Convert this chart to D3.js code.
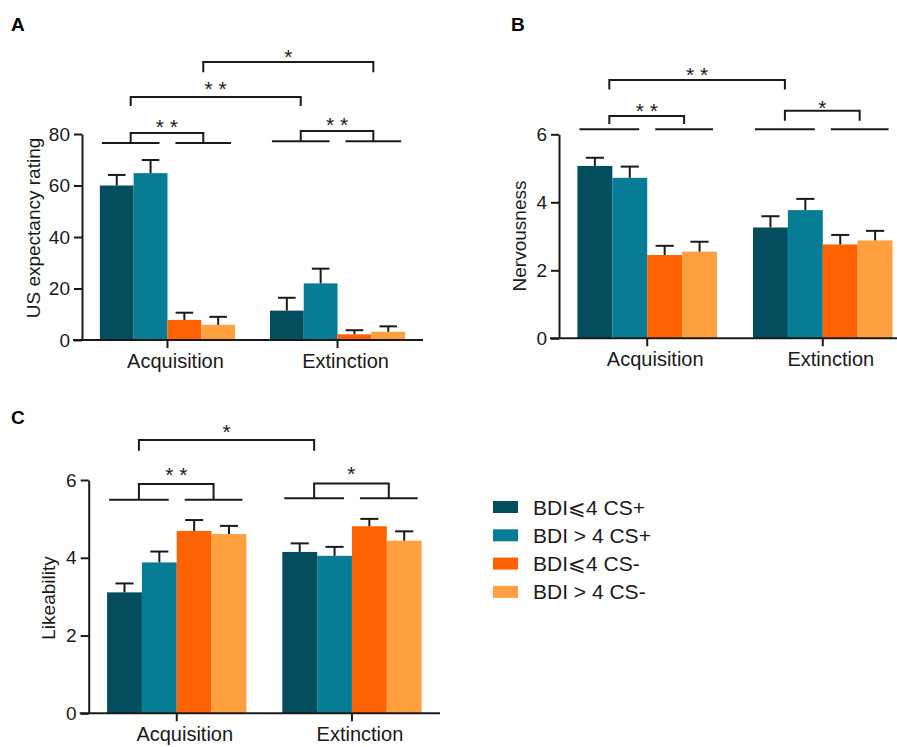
<!DOCTYPE html>
<html>
<head>
<meta charset="utf-8">
<script src="https://cdn.jsdelivr.net/npm/d3@7"></script>
<style>
  body { margin: 0; background: #fff; }
  svg { display: block; font-family: "Liberation Sans", Arial, sans-serif; }
  .stars { white-space: pre; }
</style>
</head>
<body>
<svg id="chart" width="897" height="747"></svg>
<script>
(function () {
  'use strict';

  // Data
  const categories = ['Acquisition', 'Extinction'];
  const seriesNames = ['BDI\u2A7D4 CS+', 'BDI > 4 CS+', 'BDI\u2A7D4 CS-', 'BDI > 4 CS-'];
  const seriesColors = ['#034d5f', '#067c95', '#ff6200', '#ffa040'];

  const expectancyMean = [[60.0, 64.8, 7.8, 5.9], [11.4, 22.0, 2.2, 3.2]];
  const expectancySem = [[4.1, 5.1, 2.8, 3.1], [5.0, 5.7, 1.6, 2.1]];
  const expectancyTicks = [0, 20, 40, 60, 80];

  const nervousMean = [[5.07, 4.72, 2.45, 2.55], [3.26, 3.77, 2.76, 2.88]];
  const nervousSem = [[0.24, 0.33, 0.27, 0.29], [0.33, 0.33, 0.28, 0.28]];
  const nervousTicks = [0, 2, 4, 6];

  const likeMean = [[3.11, 3.88, 4.69, 4.61], [4.15, 4.05, 4.81, 4.44]];
  const likeSem = [[0.23, 0.28, 0.28, 0.21], [0.22, 0.23, 0.19, 0.24]];
  const likeTicks = [0, 2, 4, 6];

  // significance lines: [category, value]; brackets: [from, to, top, foot, stars, gap]
  const expectancyPairs = [['Acquisition', 76.5], ['Extinction', 77.2]];
  const expectancyBrackets = [
    [['Acquisition', 0], ['Acquisition', 1], 80.4, 76.5, '* *', 11],
    [['Extinction', 0], ['Extinction', 1], 81.2, 77.2, '* *', 11],
    [['Acquisition', 0], ['Extinction', 0], 94.4, 90.9, '* *', 13],
    [['Acquisition', 1], ['Extinction', 1], 108, 104, '*', 10]
  ];
  const nervousPairs = [['Acquisition', 6.15], ['Extinction', 6.15]];
  const nervousBrackets = [
    [['Acquisition', 0], ['Acquisition', 1], 6.54, 6.3, '* *', 10],
    [['Extinction', 0], ['Extinction', 1], 6.69, 6.4, '*', 8],
    [['Acquisition', 0], ['Extinction', 0], 7.6, 7.32, '* *', 10]
  ];
  const likePairs = [['Acquisition', 5.49], ['Extinction', 5.53]];
  const likeBrackets = [
    [['Acquisition', 0], ['Acquisition', 1], 5.9, 5.49, '* *', 14],
    [['Extinction', 0], ['Extinction', 1], 5.91, 5.53, '*', 14],
    [['Acquisition', 0], ['Extinction', 0], 7.03, 6.75, '*', 13]
  ];

  const svg = d3.select('#chart');
  const ink = '#1a1a1a';

  const panels = [
    { tag: 'A', tagX: 11, tagY: 31, title: 'US expectancy rating', titleX: 40, titleY: 228,
      mean: expectancyMean, sem: expectancySem, ticks: expectancyTicks, max: 80,
      pairs: expectancyPairs, brackets: expectancyBrackets,
      left: 82, right: 423, top: 134, bottom: 340 },
    { tag: 'B', tagX: 511, tagY: 31, title: 'Nervousness', titleX: 526, titleY: 236,
      mean: nervousMean, sem: nervousSem, ticks: nervousTicks, max: 6,
      pairs: nervousPairs, brackets: nervousBrackets,
      left: 559, right: 911, top: 134.3, bottom: 338.3 },
    { tag: 'C', tagX: 11, tagY: 424, title: 'Likeability', titleX: 55, titleY: 598,
      mean: likeMean, sem: likeSem, ticks: likeTicks, max: 6,
      pairs: likePairs, brackets: likeBrackets,
      left: 88.7, right: 440, top: 480, bottom: 713.3 }
  ];

  function drawPanel(p) {
    const g = svg.append('g');

    const x = d3.scaleBand().domain(categories).range([p.left, p.right])
      .paddingInner(0.205).paddingOuter(0.105);
    const xs = d3.scaleBand().domain(d3.range(seriesNames.length)).range([0, x.bandwidth()]);
    const y = d3.scaleLinear().domain([0, p.max]).range([p.bottom, p.top]);
    const bw = xs.bandwidth();

    // bars + upper error bars
    categories.forEach(function (cat, ci) {
      const grp = g.append('g').attr('transform', 'translate(' + x(cat) + ',0)');
      const rows = p.mean[ci].map(function (m, si) {
        return { si: si, mean: m, sem: p.sem[ci][si] };
      });
      grp.selectAll('rect').data(rows).join('rect')
        .attr('x', d => xs(d.si))
        .attr('y', d => y(d.mean))
        .attr('width', bw)
        .attr('height', d => y(0) - y(d.mean))
        .attr('fill', d => seriesColors[d.si]);
      const err = grp.selectAll('g.err').data(rows).join('g').attr('class', 'err')
        .attr('stroke', d => seriesColors[d.si]).attr('stroke-width', 2.2);
      err.append('line')
        .attr('x1', d => xs(d.si) + bw / 2).attr('x2', d => xs(d.si) + bw / 2)
        .attr('y1', d => y(d.mean)).attr('y2', d => y(d.mean + d.sem));
      err.append('line')
        .attr('x1', d => xs(d.si) + bw * 0.24).attr('x2', d => xs(d.si) + bw * 0.76)
        .attr('y1', d => y(d.mean + d.sem)).attr('y2', d => y(d.mean + d.sem));
    });

    // axes
    const yAxis = g.append('g').attr('transform', 'translate(' + p.left + ',0)')
      .call(d3.axisLeft(y).tickValues(p.ticks).tickFormat(d3.format('d'))
        .tickSize(8).tickSizeOuter(0).tickPadding(4));
    yAxis.selectAll('text').attr('font-size', 19).attr('fill', ink);

    const xAxis = g.append('g').attr('transform', 'translate(0,' + p.bottom + ')')
      .call(d3.axisBottom(x).tickSize(8).tickPadding(6));
    xAxis.select('.domain').remove();
    xAxis.selectAll('text').attr('font-size', 20).attr('dx', 8).attr('fill', ink);
    g.append('line')
      .attr('x1', p.left - 9).attr('x2', Math.min(p.right, 897))
      .attr('y1', p.bottom).attr('y2', p.bottom);

    g.selectAll('.domain, .tick line, g > line').attr('stroke', ink).attr('stroke-width', 2);

    // significance markers
    function pairSpan(cat, pair) {
      const base = x(cat) + xs(pair * 2);
      return pair === 0 ? [base + 2, base + 2 * bw - 8] : [base + 8, base + 2 * bw - 4];
    }
    function pairMid(ref) {
      const s = pairSpan(ref[0], ref[1]);
      return (s[0] + s[1]) / 2;
    }
    const sig = g.append('g').attr('stroke', ink).attr('stroke-width', 2).attr('fill', 'none');
    p.pairs.forEach(function (pl) {
      [0, 1].forEach(function (pair) {
        const s = pairSpan(pl[0], pair);
        sig.append('line').attr('x1', s[0]).attr('x2', s[1])
          .attr('y1', y(pl[1])).attr('y2', y(pl[1]));
      });
    });
    p.brackets.forEach(function (b) {
      const x1 = pairMid(b[0]);
      const x2 = pairMid(b[1]);
      sig.append('path')
        .attr('d', 'M' + x1 + ',' + y(b[3]) + 'V' + y(b[2]) + 'H' + x2 + 'V' + y(b[3]));
      g.append('text').attr('class', 'stars')
        .attr('x', (x1 + x2) / 2).attr('y', y(b[2]) - b[5] + 12)
        .attr('text-anchor', 'middle').attr('font-size', 21).attr('fill', ink)
        .text(b[4]);
    });

    // titles
    g.append('text')
      .attr('transform', 'translate(' + p.titleX + ',' + p.titleY + ') rotate(-90)')
      .attr('text-anchor', 'middle').attr('font-size', 19).attr('fill', ink)
      .text(p.title);
    g.append('text').attr('x', p.tagX).attr('y', p.tagY)
      .attr('font-size', 19).attr('font-weight', 'bold').attr('fill', '#000')
      .text(p.tag);
  }

  panels.forEach(drawPanel);

  // legend
  const legend = svg.append('g').attr('transform', 'translate(493,507)');
  const row = legend.selectAll('g').data(seriesNames).join('g')
    .attr('transform', (d, i) => 'translate(0,' + i * 28.3 + ')');
  row.append('rect').attr('x', 0).attr('y', -6).attr('width', 25).attr('height', 12)
    .attr('fill', (d, i) => seriesColors[i]);
  row.append('text').attr('x', 40).attr('y', 7.5)
    .attr('font-size', 21).attr('fill', ink)
    .text(d => d);
}());
</script>
</body>
</html>
